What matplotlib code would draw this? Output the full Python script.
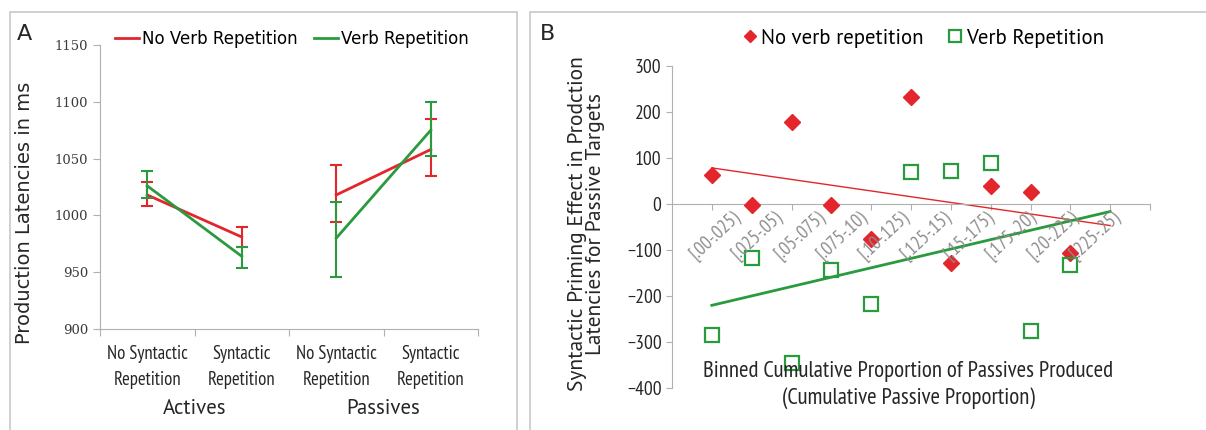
import numpy as np
import matplotlib
matplotlib.use('Agg')
import matplotlib.pyplot as plt
from matplotlib import font_manager
from matplotlib.patches import Rectangle

# panel A data
conditions = ['No Syntactic\nRepetition', 'Syntactic\nRepetition',
              'No Syntactic\nRepetition', 'Syntactic\nRepetition']
groups = ['Actives', 'Passives']
no_verb_rep = [1018, 981, 1018, 1058]
no_verb_lo = [1008, 972, 994, 1035]
no_verb_hi = [1029, 990, 1044, 1085]
verb_rep = [1026, 964, 980, 1075]
verb_lo = [1015, 954, 946, 1052]
verb_hi = [1039, 972, 1012, 1100]

# panel B data
bins = ['[.00-.025)', '[.025-.05)', '[.05-.075)', '[.075-.10)', '[.10-.125)',
        '[.125-.15)', '[.15-.175)', '[.175-.20)', '[.20-.225)', '[.225-.25)']
prime_no_verb = [62, -3, 178, -3, -77, 232, -128, 40, 27, -107]
prime_verb = [-285, -117, -345, -143, -218, 70, 72, 90, -277, -132]

RED = '#e3262b'
GREEN = '#2a9a3e'
AXGRAY = '#b0b0b0'
INK = '#262626'

names = {f.name for f in font_manager.fontManager.ttflist}


def pick(*cands):
    for c in cands:
        if c in names:
            return c
    return 'DejaVu Sans'


MYRIAD = pick('PT Sans', 'Lato', 'Open Sans')
NARROW = pick('PT Sans Narrow', 'Roboto Condensed', 'Archivo Narrow', 'Open Sans')
plt.rcParams['font.family'] = [MYRIAD, 'DejaVu Sans']

W, H = 1206, 430
fig = plt.figure(figsize=(W / 100, H / 100), dpi=100)


def fx(px):
    return px / W


def fy(py):
    return 1 - py / H


# panel frames
for x0, x1 in [(10, 517), (530, 1215)]:
    fig.add_artist(Rectangle((fx(x0), fy(440)), fx(x1 - x0), (440 - 12) / H,
                             transform=fig.transFigure, fill=False,
                             edgecolor='#c8c8c8', lw=1.2))

# ---------------- panel A ----------------
axA = fig.add_axes([fx(100), fy(329), fx(478 - 100), (329 - 45) / H])
xpos = np.arange(4) + 0.5
for vals, lo, hi, col, lab in [(no_verb_rep, no_verb_lo, no_verb_hi, RED, 'No Verb Repetition'),
                               (verb_rep, verb_lo, verb_hi, GREEN, 'Verb Repetition')]:
    vals = np.array(vals)
    err = [vals - np.array(lo), np.array(hi) - vals]
    axA.errorbar(xpos, vals, yerr=err, fmt='none', ecolor=col, elinewidth=1.5,
                 capsize=4, capthick=1.5)
    axA.plot(xpos[:2], vals[:2], color=col, lw=2, label=lab)
    axA.plot(xpos[2:], vals[2:], color=col, lw=2)

axA.set_xlim(0, 4)
axA.set_ylim(900, 1150)
axA.set_yticks(np.arange(900, 1151, 50))
axA.set_xticks(np.arange(5))
axA.set_xticklabels([])
axA.tick_params(axis='y', labelsize=9.5, colors=AXGRAY, labelcolor='#3a3a3a', length=5)
for lab in axA.get_yticklabels():
    lab.set_family('DejaVu Serif')
axA.tick_params(axis='x', colors=AXGRAY, length=5)
for s in ['top', 'right']:
    axA.spines[s].set_visible(False)
for s in ['left', 'bottom']:
    axA.spines[s].set_color(AXGRAY)
for x, lab in zip(xpos, conditions):
    axA.text(x, -0.055, lab, transform=axA.get_xaxis_transform(), ha='center', va='top',
             fontsize=13.5, family=NARROW, linespacing=1.6, color=INK)
for i, g in enumerate(groups):
    axA.text(2 * i + 1, -0.245, g, transform=axA.get_xaxis_transform(), ha='center',
             va='top', fontsize=15, color=INK)
axA.set_ylabel('Production Latencies in ms', fontsize=14, color=INK,
               family='DejaVu Sans')
axA.yaxis.set_label_coords(-0.175, 0.41)
axA.legend(loc='center', bbox_to_anchor=(fx(292), fy(39)), bbox_transform=fig.transFigure,
           ncol=2, frameon=False, handlelength=1.4, handletextpad=0.2,
           columnspacing=1.0, prop={'family': 'DejaVu Sans', 'size': 12})
fig.text(fx(17), fy(34), 'A', fontsize=16, va='center', color=INK, family='DejaVu Sans')

# ---------------- panel B ----------------
axB = fig.add_axes([fx(672), fy(388), fx(1150 - 672), (388 - 66) / H])
xb = np.arange(1, len(bins) + 1)
axB.plot(xb, prime_no_verb, 'D', color=RED, ms=8, mec=RED, label='No verb repetition', zorder=3)
axB.plot(xb, prime_verb, 's', color=GREEN, ms=10, mfc='none', mew=1.6,
         label='Verb Repetition', zorder=3)

# linear trend lines, extended one bin forward
xt = np.array([1, len(bins) + 1])
k, b = np.polyfit(xb, prime_no_verb, 1)
axB.plot(xt, k * xt + b, color=RED, lw=1, zorder=2)
k, b = np.polyfit(xb, prime_verb, 1)
axB.plot(xt, k * xt + b, color=GREEN, lw=2, zorder=2)

axB.set_xlim(0, 12)
axB.set_ylim(-400, 300)
axB.set_yticks(np.arange(-400, 301, 100))
axB.set_xticks(np.arange(1, 13))
axB.set_xticklabels([])
axB.spines['bottom'].set_position(('data', 0))
for s in ['top', 'right']:
    axB.spines[s].set_visible(False)
for s in ['left', 'bottom']:
    axB.spines[s].set_color(AXGRAY)
axB.tick_params(axis='y', colors=AXGRAY, labelcolor=INK, labelsize=14, length=4)
for lab in axB.get_yticklabels():
    lab.set_family(NARROW)
axB.tick_params(axis='x', colors=AXGRAY, length=4, direction='out')

lab_x = 1.5 + 1.06 * np.arange(len(bins))
for x, lab in zip(lab_x, bins):
    axB.text(x, -8, lab, rotation=43, ha='right', va='top', rotation_mode='anchor',
             fontsize=13.5, family=NARROW, color='#8c8c8c')

axB.set_ylabel('Syntactic Priming Effect in Prodction\nLatencies for Passive Targets',
               fontsize=15.5, color=INK, linespacing=0.95, family=MYRIAD)
axB.yaxis.set_label_coords(-0.14, 0.51)
fig.text(fx(908), fy(385), 'Binned Cumulative Proportion of Passives Produced\n'
         '(Cumulative Passive Proportion)', ha='center', va='center', fontsize=16.5,
         family=NARROW, color=INK, linespacing=1.25)
axB.legend(loc='center', bbox_to_anchor=(fx(924), fy(38)), bbox_transform=fig.transFigure,
           ncol=2, frameon=False, handlelength=0.6, handletextpad=0.25,
           columnspacing=1.2, markerscale=0.8, prop={'family': MYRIAD, 'size': 15})
fig.text(fx(540), fy(34), 'B', fontsize=16, va='center', color=INK, family='DejaVu Sans')

fig.savefig('out.png', dpi=100)
